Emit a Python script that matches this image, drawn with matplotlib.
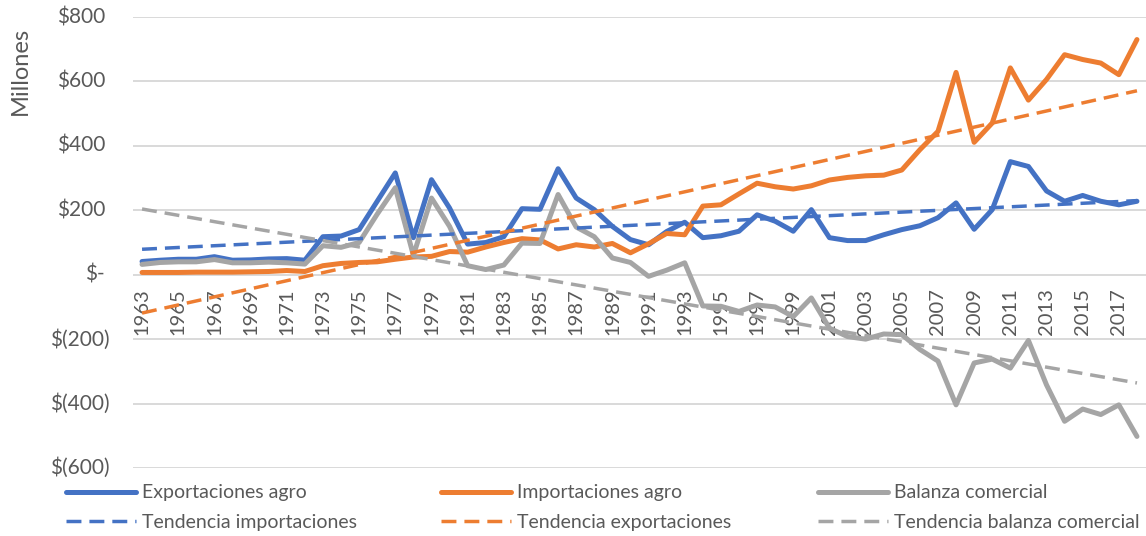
import matplotlib
matplotlib.use("Agg")
import matplotlib.pyplot as plt
import matplotlib.transforms as mtransforms
import numpy as np

plt.rcParams['font.family'] = ['Lato', 'DejaVu Sans']

years = list(range(1963, 2019))

exportaciones = [41, 45, 48, 48, 56, 45, 46, 49, 50, 45,
                 118, 120, 140, 228, 316, 115, 295, 207, 95, 100,
                 118, 205, 203, 329, 238, 202, 150, 109, 93, 134,
                 163, 115, 121, 135, 186, 166, 135, 202, 115, 106,
                 106, 124, 140, 152, 177, 223, 141, 202, 351, 336,
                 260, 228, 246, 228, 217, 228]

importaciones = [7, 7, 7, 8, 8, 8, 9, 10, 13, 10,
                 28, 35, 38, 40, 48, 55, 57, 72, 70, 86,
                 100, 112, 108, 80, 93, 86, 97, 68, 96, 128,
                 124, 213, 217, 251, 284, 273, 266, 276, 294, 302,
                 307, 309, 325, 388, 445, 628, 411, 471, 642, 542,
                 606, 683, 668, 657, 621, 730]

balanza = [32, 38, 40, 40, 47, 37, 37, 39, 37, 33,
           90, 85, 100, 188, 270, 60, 238, 150, 28, 16,
           30, 98, 97, 249, 148, 118, 52, 38, -5, 14,
           37, -97, -98, -114, -94, -100, -130, -72, -166, -192,
           -200, -184, -186, -232, -268, -404, -274, -262, -290, -204,
           -342, -455, -417, -434, -404, -502]

# trend line endpoints (first and last year)
tend_importaciones = [79, 230]
tend_exportaciones = [-119, 571]
tend_balanza = [204, -336]

yticks = [800, 600, 400, 200, 0, -200, -400, -600]
ytick_labels = ["$800", "$600", "$400", "$200", "$-", "$(200)", "$(400)", "$(600)"]

BLUE = "#4472C4"
ORANGE = "#ED7D31"
GRAY = "#A5A5A5"
TXT = "#595959"
GRID = "#D9D9D9"

W, H = 1146, 536
fig = plt.figure(figsize=(W / 100, H / 100), dpi=100)
ax = fig.add_axes([133 / W, 1 - 468 / H, 1 - 133 / W, (468 - 17) / H])

x = np.arange(len(years))
lw_main = 3.6
lw_tr = 2.5
dash = (0, (4.3, 2.3))

l1, = ax.plot(x, exportaciones, color=BLUE, lw=lw_main, solid_joinstyle='round',
              solid_capstyle='round', label="Exportaciones agro", zorder=3)
l2, = ax.plot(x, importaciones, color=ORANGE, lw=lw_main, solid_joinstyle='round',
              solid_capstyle='round', label="Importaciones agro", zorder=3)
l3, = ax.plot(x, balanza, color=GRAY, lw=lw_main, solid_joinstyle='round',
              solid_capstyle='round', label="Balanza comercial", zorder=3)
xe = [x[0], x[-1]]
t1, = ax.plot(xe, tend_importaciones, color=BLUE, lw=lw_tr, linestyle=dash,
              dash_capstyle='butt', label="Tendencia importaciones", zorder=4)
t2, = ax.plot(xe, tend_exportaciones, color=ORANGE, lw=lw_tr, linestyle=dash,
              dash_capstyle='butt', label="Tendencia exportaciones", zorder=4)
t3, = ax.plot(xe, tend_balanza, color=GRAY, lw=lw_tr, linestyle=dash,
              dash_capstyle='butt', label="Tendencia balanza comercial", zorder=4)

ax.set_xlim(-0.5, len(years) - 0.5)
ax.set_ylim(-600, 800)

for s in ax.spines.values():
    s.set_visible(False)
ax.spines['bottom'].set_position(('data', 0))

ax.set_yticks(yticks)
ax.yaxis.grid(True, color=GRID, lw=1.4)
ax.set_axisbelow(True)
ax.tick_params(axis='y', length=0, labelleft=False)

# y tick labels (accounting format alignment)
for v, lab in zip(yticks, ytick_labels):
    off = -23 if "(" in lab else -28
    tr = ax.get_yaxis_transform() + mtransforms.ScaledTranslation(off / 100, 0, fig.dpi_scale_trans)
    ax.text(0, v, lab, transform=tr, ha='right', va='center', fontsize=15, color=TXT)

ax.set_xticks(x[::2])
ax.set_xticklabels([str(y) for y in years[::2]])
ax.tick_params(axis='x', length=0, pad=10, labelrotation=90, labelsize=14.5, labelcolor=TXT)

fig.text(20 / W, 1 - 71 / H, "Millones", rotation=90, ha='center', va='center',
         fontsize=17, color=TXT)

cols = [(l1, t1, 66), (l2, t2, 441), (l3, t3, 818)]
for a, b, xpx in cols:
    leg = fig.legend([a, b], [a.get_label(), b.get_label()], loc='center left',
                     bbox_to_anchor=(xpx / W, 1 - 507.5 / H), frameon=False,
                     fontsize=14, labelcolor=TXT, handlelength=3.6, handletextpad=0.3,
                     borderpad=0, borderaxespad=0, labelspacing=0.62)

fig.savefig("out.png", dpi=100)
